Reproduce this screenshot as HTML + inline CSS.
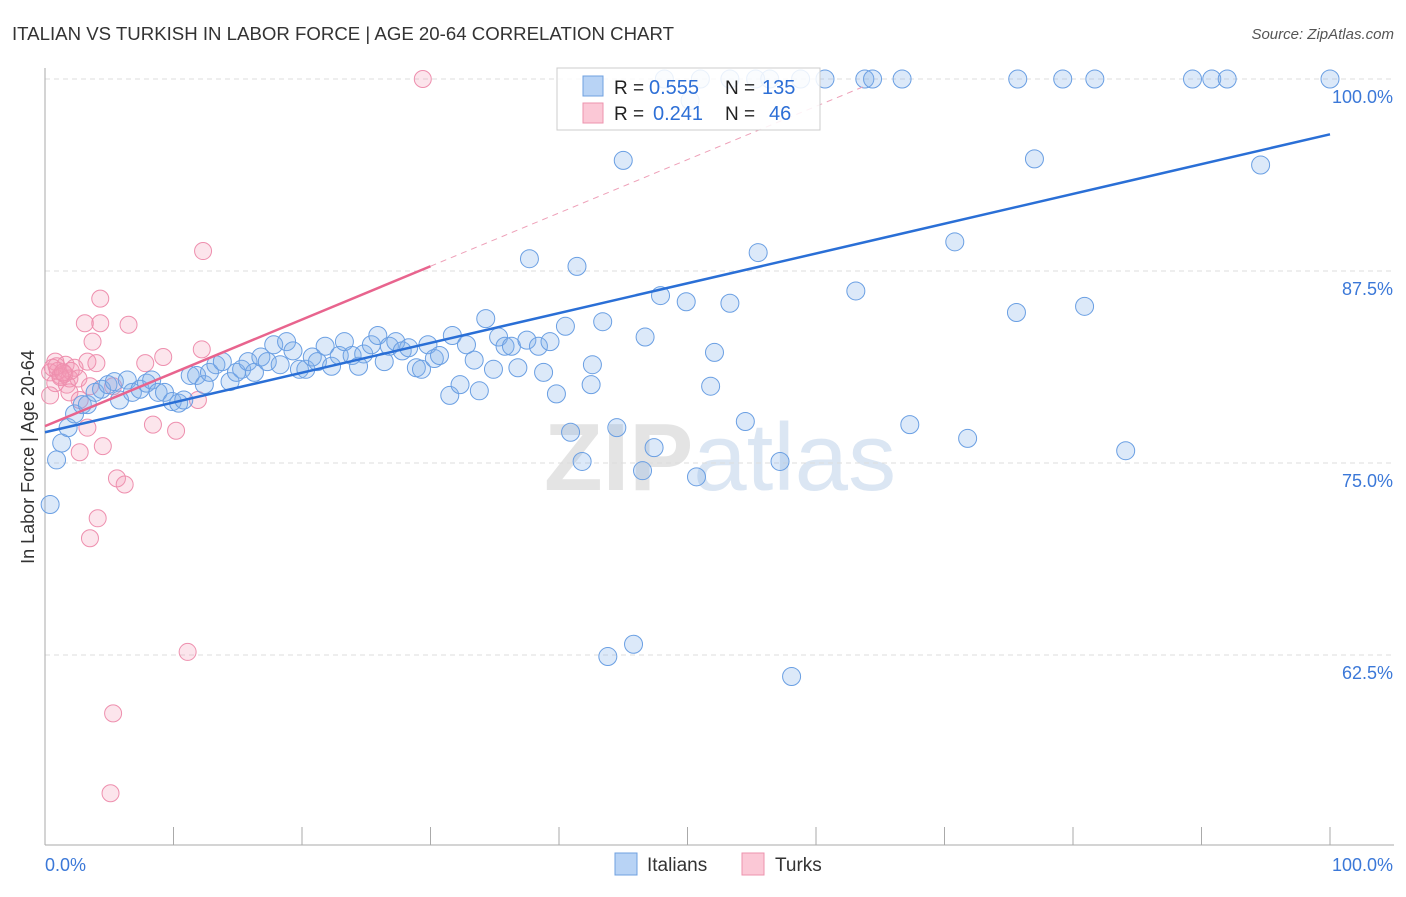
<!DOCTYPE html>
<html><head><meta charset="utf-8"><style>
body{margin:0;background:#fff;font-family:"Liberation Sans",sans-serif}
svg text{font-family:"Liberation Sans",sans-serif}
</style></head><body>
<svg id="c" width="1406" height="892" xmlns="http://www.w3.org/2000/svg">
<text x="12" y="40" font-size="18" fill="#333" textLength="662" lengthAdjust="spacingAndGlyphs">ITALIAN VS TURKISH IN LABOR FORCE | AGE 20-64 CORRELATION CHART</text>
<text x="1394" y="39" font-size="15" fill="#555" text-anchor="end" font-style="italic">Source: ZipAtlas.com</text>
<text x="720" y="490" font-size="96" fill="#e4e4e4" text-anchor="middle" font-weight="bold" font-family="Liberation Serif">ZIP<tspan fill="#dbe6f3" font-family="Liberation Sans" font-weight="normal">atlas</tspan></text>
<g id="grid"></g><g id="axes"></g><g id="pts"></g><g id="trend"></g>
<g>
<rect x="557" y="68" width="263" height="62" fill="#fff" fill-opacity="0.85" stroke="#ccc"/>
<rect x="583" y="76" width="20" height="20" fill="#b8d3f5" stroke="#6fa0e0"/>
<rect x="583" y="103" width="20" height="20" fill="#fbc8d6" stroke="#ec93ae"/>
<text x="614" y="94" font-size="19" fill="#222">R =</text>
<text x="649" y="94" font-size="20" fill="#2d6fd6">0.555</text>
<text x="725" y="94" font-size="19" fill="#222">N =</text>
<text x="762" y="94" font-size="20" fill="#2d6fd6">135</text>
<text x="614" y="120" font-size="19" fill="#222">R =</text>
<text x="653" y="120" font-size="20" fill="#2d6fd6">0.241</text>
<text x="725" y="120" font-size="19" fill="#222">N =</text>
<text x="769" y="120" font-size="20" fill="#2d6fd6">46</text>
</g>
<g>
<rect x="615" y="853" width="22" height="22" fill="#b8d3f5" stroke="#6fa0e0"/>
<text x="647" y="871" font-size="19" fill="#333">Italians</text>
<rect x="742" y="853" width="22" height="22" fill="#fbc8d6" stroke="#ec93ae"/>
<text x="775" y="871" font-size="19" fill="#333">Turks</text>
</g>
<text x="34" y="457" font-size="18" fill="#333" text-anchor="middle" transform="rotate(-90 34 457)">In Labor Force | Age 20-64</text>
</svg>
<script>
const blueX=[0.4,0.9,1.3,1.8,2.3,2.9,3.3,3.9,4.4,4.9,5.4,5.8,6.4,6.8,7.4,7.9,8.3,8.8,9.3,9.9,10.4,10.8,11.3,11.8,12.4,12.8,13.3,13.8,14.4,14.9,15.3,15.8,16.3,16.8,17.3,17.8,18.3,18.8,19.3,19.8,20.3,20.8,21.2,21.8,22.3,22.9,23.3,23.9,24.4,24.8,25.4,25.9,26.4,26.8,27.3,27.8,28.3,28.9,29.3,29.8,30.3,30.7,31.5,31.7,32.3,32.8,33.4,33.8,34.3,34.9,35.3,35.8,36.3,36.8,37.5,37.7,38.4,38.8,39.3,39.8,40.5,40.9,41.4,41.8,42.5,42.6,43.4,43.8,44.5,45.0,45.8,46.5,46.7,47.4,47.9,49.9,50.7,51.8,52.1,53.3,54.5,55.5,57.2,58.1,63.1,67.3,70.8,71.8,75.6,77.0,80.9,84.1,94.6,48.2,51.0,53.3,55.3,56.4,58.8,60.7,63.8,64.4,66.7,75.7,79.2,81.7,89.3,90.8,92.0,100,50.2];
const blueY=[72.3,75.2,76.3,77.3,78.2,78.8,78.8,79.6,79.8,80.1,80.3,79.1,80.4,79.6,79.8,80.2,80.4,79.6,79.6,79.0,78.9,79.1,80.7,80.7,80.1,80.9,81.4,81.6,80.3,80.9,81.1,81.6,80.9,81.9,81.6,82.7,81.4,82.9,82.3,81.1,81.1,81.9,81.6,82.6,81.3,82.0,82.9,82.0,81.3,82.1,82.7,83.3,81.6,82.6,82.9,82.3,82.5,81.2,81.1,82.7,81.8,82.0,79.4,83.3,80.1,82.7,81.7,79.7,84.4,81.1,83.2,82.6,82.6,81.2,83.0,88.3,82.6,80.9,82.9,79.5,83.9,77.0,87.8,75.1,80.1,81.4,84.2,62.4,77.3,94.7,63.2,74.5,83.2,76.0,85.9,85.5,74.1,80.0,82.2,85.4,77.7,88.7,75.1,61.1,86.2,77.5,89.4,76.6,84.8,94.8,85.2,75.8,94.4,100,100,100,100,100,100,100,100,100,100,100,100,100,100,100,100,100,98.6];
const pinkX=[29.4,12.3,4.3,3.1,4.3,6.5,3.7,9.2,12.2,7.8,0.8,1.6,2.3,3.3,4.0,0.4,1.2,1.9,2.6,0.8,1.7,3.5,5.3,0.4,1.9,2.7,11.9,3.3,8.4,10.2,4.5,2.7,5.6,6.2,4.1,3.5,11.1,5.3,5.1,1.0,1.5,0.6,2.0,1.2,0.9,1.4];
const pinkY=[100,88.8,85.7,84.1,84.1,84.0,82.9,81.9,82.4,81.5,81.6,81.4,81.2,81.6,81.5,80.9,80.7,80.5,80.5,80.2,80.1,80.0,80.0,79.4,79.6,79.1,79.1,77.3,77.5,77.1,76.1,75.7,74.0,73.6,71.4,70.1,62.7,58.7,53.5,81.0,80.8,81.2,81.0,80.6,81.3,80.9];
const yTicks=[100,87.5,75,62.5];
const blueTrend=[77.0,96.4];
const pinkTrend=[77.4,0.347];
const X=v=>45+v*12.85, Y=v=>79+(100-v)*15.36;
const NS="http://www.w3.org/2000/svg";
function mk(p,t,a){const e=document.createElementNS(NS,t);for(const k in a)e.setAttribute(k,a[k]);p.appendChild(e);return e;}
const grid=document.getElementById('grid'),axes=document.getElementById('axes'),pts=document.getElementById('pts'),tr=document.getElementById('trend');
yTicks.forEach(v=>{
 const l=mk(grid,'line',{x1:45,x2:1394,y1:Y(v),y2:Y(v),stroke:'#ddd','stroke-dasharray':'5,4'});
 
 
 const t=mk(axes,'text',{x:1393,y:Y(v)+24,'font-size':18,fill:'#3b78d8','text-anchor':'end'});
 t.textContent=v.toFixed(1)+'%';
 
 
});
mk(axes,'line',{x1:45,x2:45,y1:68,y2:845,stroke:'#aaa'});
mk(axes,'line',{x1:45,x2:1394,y1:845,y2:845,stroke:'#aaa'});
for(let i=0;i<=10;i++){const tk=mk(axes,'line',{x1:X(i*10),x2:X(i*10),y1:827,y2:845,stroke:'#aaa'});
 
 }
const a0=mk(axes,'text',{x:45,y:871,'font-size':18,fill:'#3b78d8'});a0.textContent='0.0%';


const a1=mk(axes,'text',{x:1393,y:871,'font-size':18,fill:'#3b78d8','text-anchor':'end'});a1.textContent='100.0%';


pinkX.forEach((x,i)=>{const c=mk(pts,'circle',{cx:X(x),cy:Y(pinkY[i]),r:8.5,fill:'rgba(245,150,180,0.25)',stroke:'#ee8fae','stroke-width':1});
 
 });
blueX.forEach((x,i)=>{const c=mk(pts,'circle',{cx:X(x),cy:Y(blueY[i]),r:9,fill:'rgba(130,175,235,0.28)',stroke:'#6a9fe3','stroke-width':1});
 
 });
const bl=mk(tr,'line',{x1:X(0),y1:Y(blueTrend[0]),x2:X(100),y2:Y(blueTrend[1]),stroke:'#2a6fd6','stroke-width':2.5});


const pl=mk(tr,'line',{x1:X(0),y1:Y(pinkTrend[0]),x2:X(30),y2:Y(pinkTrend[0]+30*pinkTrend[1]),stroke:'#e8648e','stroke-width':2.5});


const pd=mk(tr,'line',{x1:X(30),y1:Y(pinkTrend[0]+30*pinkTrend[1]),x2:X(64),y2:Y(pinkTrend[0]+64*pinkTrend[1]),stroke:'#eea0b8','stroke-width':1,'stroke-dasharray':'6,5'});


</script>
</body></html>
